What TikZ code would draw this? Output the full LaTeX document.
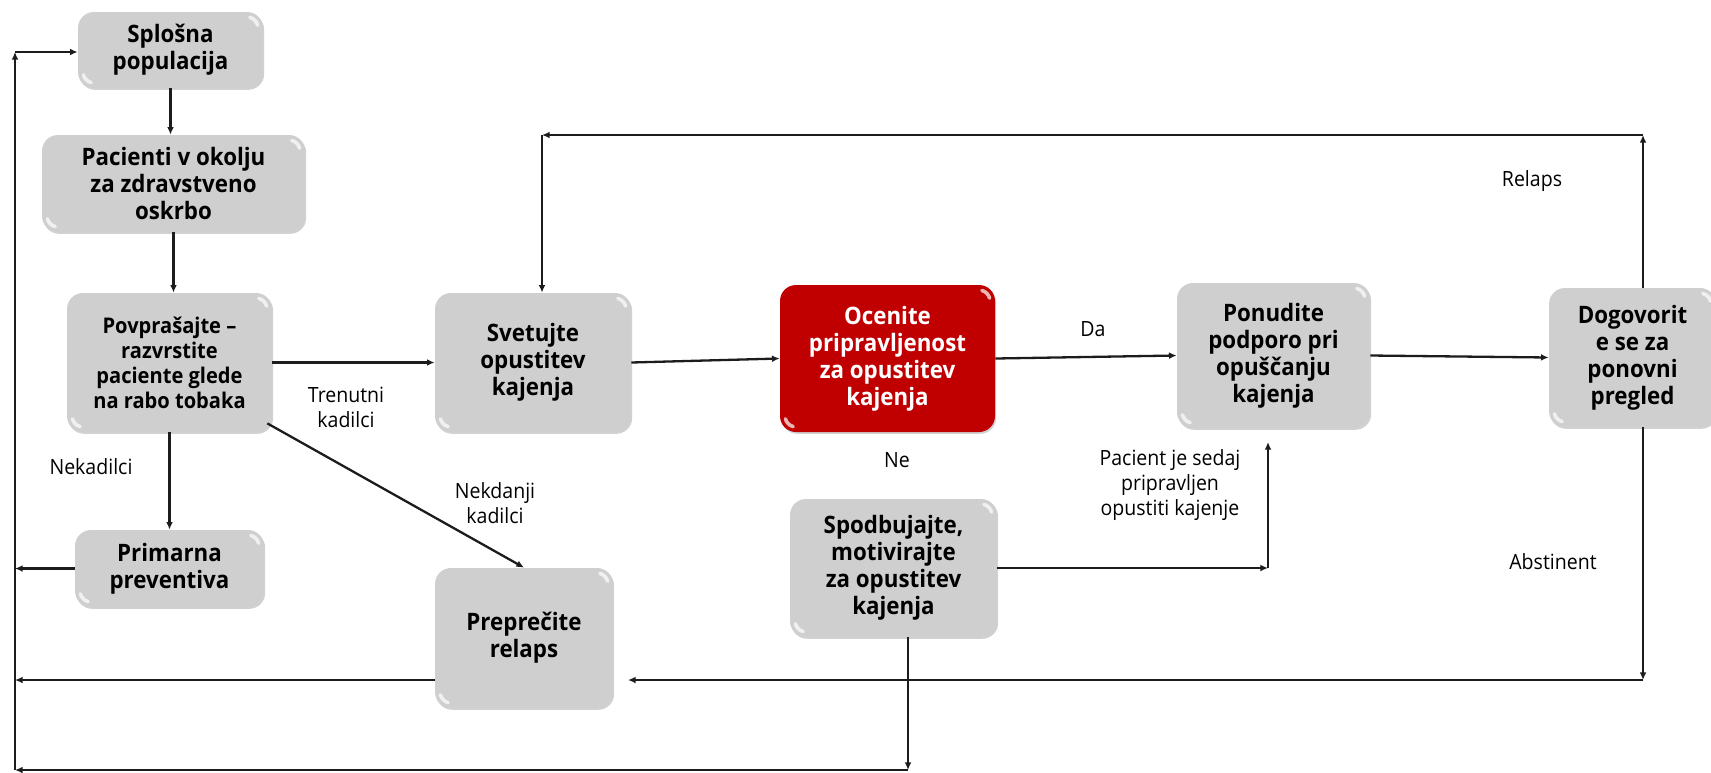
\documentclass[tikz,border=0pt]{standalone}
\usepackage{fontspec}
\setmainfont[FakeStretch=0.93]{Open Sans}
\usepackage{xcolor}
\usepackage{tikz}
\usetikzlibrary{arrows.meta, positioning, shadows, calc}
\definecolor{boxgray}{RGB}{208, 207, 208}
\definecolor{alertred}{RGB}{192, 0, 0}
\definecolor{linegray}{RGB}{28, 28, 28}

\begin{document}
\begin{tikzpicture}[
        x=0.5pt, y=-0.5pt,
        glint/.style={path picture={
            \draw[white, line width=1.8pt, opacity=0.7, line cap=round] ($(path picture bounding box.north east)+(-2.7pt,-6.6pt)$) arc[start angle=15, end angle=75, radius=5.5pt];
            \draw[white, line width=1.8pt, opacity=0.7, line cap=round] ($(path picture bounding box.south west)+(2.7pt,6.6pt)$) arc[start angle=195, end angle=255, radius=5.5pt];}},
        block/.style={rectangle, rounded corners=8pt, fill=boxgray, align=center, inner sep=0pt, glint, font=\fontsize{12}{13.5}\selectfont\bfseries, general shadow={fill=black, opacity=0.18, shadow xshift=0.6pt, shadow yshift=-0.9pt}},
        hot/.style={block, fill=alertred, text=white},
        flow/.style={draw=linegray, line width=1.15pt, -{Latex[length=3.8pt, width=3.4pt]}},
        note/.style={align=center, font=\fontsize{10.5}{12.5}\selectfont}
    ]
        \useasboundingbox (0,0) rectangle (1711,772);

        % Boxes
        \node[block, minimum width=92.5pt, minimum height=38pt] (splosna) at (170.5,50) {Splošna\\populacija};
        \node[block, minimum width=131.5pt, minimum height=48.5pt] (pacienti) at (173.5,183.5) {Pacienti v okolju\\za zdravstveno\\oskrbo};
        \node[block, minimum width=102.5pt, minimum height=69.5pt, font=\fontsize{10.8}{12.5}\selectfont\bfseries] (povprasajte) at (169.5,362.5) {Povprašajte –\\razvrstite\\paciente glede\\na rabo tobaka};
        \node[block, minimum width=94.5pt, minimum height=38.5pt] (primarna) at (169.5,568.5) {Primarna\\preventiva};
        \node[block, minimum width=98pt, minimum height=69.5pt] (svetujte) at (533,362.5) {Svetujte\\opustitev\\kajenja};
        \node[hot, minimum width=107.5pt, minimum height=73.5pt] (ocenite) at (887.5,358.5) {Ocenite\\pripravljenost\\za opustitev\\kajenja};
        \node[block, minimum width=96.5pt, minimum height=72.5pt] (ponudite) at (1273.5,355.5) {Ponudite\\podporo pri\\opuščanju\\kajenja};
        \node[block, minimum width=83.5pt, minimum height=69.5pt] (dogovorite) at (1632.5,357.5) {Dogovorit\\e se za\\ponovni\\pregled};
        \node[block, minimum width=103.5pt, minimum height=69pt] (spodbujajte) at (893.5,568) {Spodbujajte,\\motivirajte\\za opustitev\\kajenja};
        \node[block, minimum width=89pt, minimum height=70pt] (preprecite) at (524,638) {Preprečite\\relaps};

        % Labels
        \node[note] (trenutni) at (346,407) {Trenutni\\kadilci};
        \node[note] (nekadilci) at (91,467) {Nekadilci};
        \node[note] (nekdanji) at (495,503) {Nekdanji\\kadilci};
        \node[note] (ne) at (897,460) {Ne};
        \node[note] (da) at (1093,329) {Da};
        \node[note] (relaps) at (1532,181) {Relaps};
        \node[note] (pripravljen) at (1170,485) {Pacient je sedaj\\pripravljen\\opustiti kajenje};
        \node[note] (abstinent) at (1553,562) {Abstinent};

        % Corners of the loops
        \coordinate (relapsR) at (1643,135);
        \coordinate (relapsL) at (542,135);
        \coordinate (abstR) at (1643,680);
        \coordinate (abstL) at (628,680);
        \coordinate (leftT) at (15,52);
        \coordinate (leftB) at (15,770);
        \coordinate (motivB) at (908,770);
        \coordinate (motivR) at (1268,568);
        \coordinate (motivU) at (1268,442);

        % Connectors
        \draw[flow] (splosna.south) -- (splosna.south |- pacienti.north);
        \draw[flow] (pacienti.south) -- (pacienti.south |- povprasajte.north);
        \draw[flow] (povprasajte.east) -- (svetujte.west);
        \draw[flow] (povprasajte.south) -- (povprasajte.south |- primarna.north);
        \draw[flow] ($(povprasajte.south east)+(-5,-9)$) -- (preprecite.north);
        \draw[flow] (primarna.west) -- (primarna.west -| leftT);
        \draw[flow] (svetujte.east) -- (ocenite.west);
        \draw[flow] (ocenite.east) -- (ponudite.west);
        \draw[flow] (ponudite.east) -- (dogovorite.west);

        \draw[flow] (dogovorite.north -| relapsR) -- (relapsR);
        \draw[flow] (relapsR) -- (relapsL);
        \draw[flow] (relapsL) -- (relapsL |- svetujte.north);

        \draw[flow] (dogovorite.south -| abstR) -- (abstR);
        \draw[flow] (abstR) -- (abstL);
        \draw[flow] (preprecite.west |- abstR) -- (leftT |- abstR);

        \draw[flow] (spodbujajte.east |- motivR) -- (motivR);
        \draw[flow] (motivR) -- (motivU);
        \draw[flow] (spodbujajte.south -| motivB) -- (motivB);
        \draw[flow] (motivB) -- (leftB);
        \draw[flow] (leftB) -- (leftT);
        \draw[flow] (leftT) -- (leftT -| splosna.west);
    \end{tikzpicture}
\end{document}
